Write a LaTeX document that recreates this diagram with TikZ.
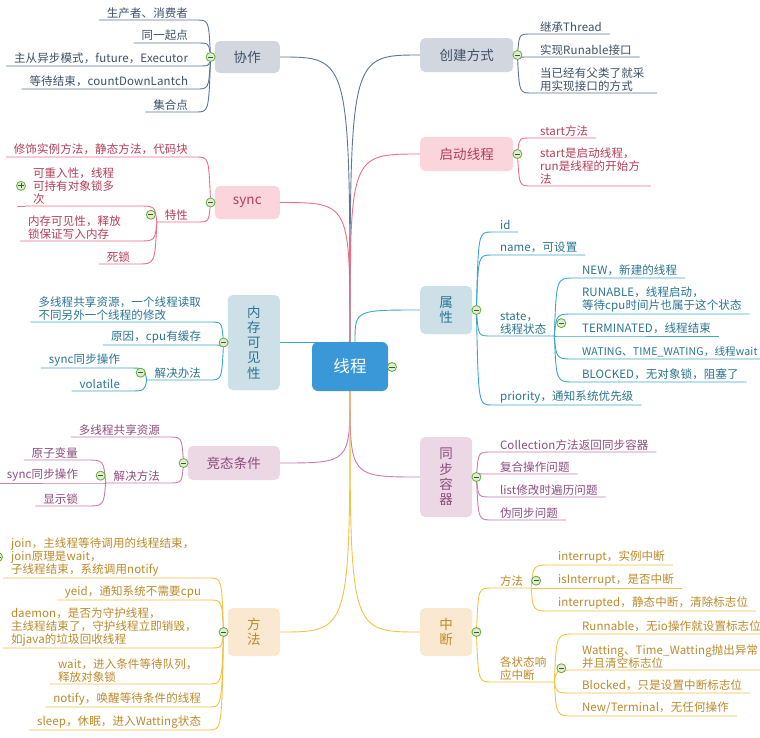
\documentclass[tikz,border=0pt]{standalone}
\usepackage{fontspec}
\setmainfont{Noto Sans CJK SC}[LetterSpace=1]
\usetikzlibrary{backgrounds,calc}
\definecolor{hubblue}{HTML}{3A98D8}
\definecolor{slateline}{HTML}{5E7796}
\definecolor{slatefill}{HTML}{D2D7DF}
\definecolor{slatetext}{HTML}{3C5068}
\definecolor{roseline}{HTML}{EF6E88}
\definecolor{rosefill}{HTML}{FAD5DB}
\definecolor{rosetext}{HTML}{B43D58}
\definecolor{tealline}{HTML}{3AA8C8}
\definecolor{tealfill}{HTML}{CDE0E8}
\definecolor{tealtext}{HTML}{2A7590}
\definecolor{plumline}{HTML}{C87CB3}
\definecolor{plumfill}{HTML}{EBD8E4}
\definecolor{plumtext}{HTML}{8C4C7E}
\definecolor{amberline}{HTML}{F5C344}
\definecolor{amberfill}{HTML}{FBE8D0}
\definecolor{ambertext}{HTML}{BC8A2A}
\definecolor{foldgreen}{HTML}{5FAE2E}
\definecolor{foldfill}{HTML}{E3EADB}
\tikzset{
  hub/.style={
    fill=hubblue,
    text=white,
    rounded corners=6pt,
    minimum width=76pt,
    minimum height=49pt,
    inner sep=0pt,
    font=\fontsize{16.5}{18}\selectfont
  },
  topic/.style={
    rounded corners=5pt,
    inner sep=0pt,
    align=center,
    font=\fontsize{13.5}{15.3}\selectfont
  },
  leaf/.style={
    inner xsep=8pt,
    inner ysep=2pt,
    outer sep=0pt,
    align=left,
    font=\fontsize{11.5}{12.8}\selectfont
  },
  lleaf/.style={leaf, anchor=south east},
  rleaf/.style={leaf, anchor=south west},
  fold/.style={
    circle,
    draw=foldgreen,
    fill=foldfill,
    line width=0.8pt,
    minimum size=9pt,
    inner sep=0pt,
    path picture={\draw[foldgreen!55!black, line width=0.9pt]
      ([xshift=-2.6pt]path picture bounding box.center) --
      ([xshift=2.6pt]path picture bounding box.center);}
  },
  plusfold/.style={
    fold,
    path picture={\draw[foldgreen!55!black, line width=0.9pt]
      ([xshift=-2.6pt]path picture bounding box.center) --
      ([xshift=2.6pt]path picture bounding box.center)
      ([yshift=-2.6pt]path picture bounding box.center) --
      ([yshift=2.6pt]path picture bounding box.center);}
  },
  link/.style={line width=0.9pt}
}
\newcommand{\hublink}[3]{%
  \draw[link,#1] (#3) .. controls (#3 |- #2) .. (#2);
}
\newcommand{\leftlink}[3]{%
  \draw[link,#1] (#2.south west) -- (#2.south east)
    .. controls ($(#2.south east -| #3)+(-2,0)$) .. (#3);
}
\newcommand{\rightlink}[3]{%
  \draw[link,#1] (#3) .. controls ($(#2.south west -| #3)+(2,0)$) ..
    (#2.south west) -- (#2.south east);
}

\begin{document}
\begin{tikzpicture}[x=1pt, y=-1pt]
  \useasboundingbox (0,0) rectangle (760,737);

  % --- centre ---
  \node[hub] (thread) at (350,366.5) {线程};
  \node[fold] (threadf) at (392,367) {};
  \coordinate (tn) at ([xshift=5pt]thread.north);

  % --- topics, left ---
  \node[topic, anchor=east, fill=slatefill, text=slatetext, minimum width=65pt, minimum height=32pt] (coop) at (280,57) {协作};
  \node[topic, anchor=east, fill=rosefill, text=rosetext, minimum width=65pt, minimum height=33pt] (sync) at (280,202.5) {sync};
  \node[topic, anchor=east, fill=tealfill, text=tealtext, minimum width=52pt, minimum height=95pt] (memvis) at (280,342.5) {内\\存\\可\\见\\性};
  \node[topic, anchor=east, fill=plumfill, text=plumtext, minimum width=92pt, minimum height=34pt] (race) at (280,463) {竞态条件};
  \node[topic, anchor=east, fill=amberfill, text=ambertext, minimum width=52pt, minimum height=48pt] (meth) at (280,632) {方\\法};

  % --- topics, right ---
  \node[topic, anchor=west, fill=slatefill, text=slatetext, minimum width=93pt, minimum height=34pt] (create) at (420,55) {创建方式};
  \node[topic, anchor=west, fill=rosefill, text=rosetext, minimum width=93pt, minimum height=34pt] (start) at (420,154) {启动线程};
  \node[topic, anchor=west, fill=tealfill, text=tealtext, minimum width=52pt, minimum height=48pt] (attr) at (420,310) {属\\性};
  \node[topic, anchor=west, fill=plumfill, text=plumtext, minimum width=52pt, minimum height=80pt] (syncc) at (420,477) {同\\步\\容\\器};
  \node[topic, anchor=west, fill=amberfill, text=ambertext, minimum width=52pt, minimum height=48pt] (intr) at (420,632) {中\\断};

  \foreach \t in {coop,sync,memvis,race,meth}
    {\node[fold] (\t f) at ([xshift=-4pt]\t.west) {};}
  \foreach \t in {create,start,attr,syncc,intr}
    {\node[fold] (\t f) at ([xshift=4pt]\t.east) {};}

  % --- 协作 ---
  \begin{scope}[text=slatetext]
    \node[lleaf] (coop1) at (196,20) {生产者、消费者};
    \node[lleaf] (coop2) at (196,43) {同一起点};
    \node[lleaf] (coop3) at (196,66) {主从异步模式，future，Executor};
    \node[lleaf] (coop4) at (196,89) {等待结束，countDownLantch};
    \node[lleaf] (coop5) at (196,112) {集合点};
  \end{scope}

  % --- sync ---
  \begin{scope}[text=rosetext]
    \node[lleaf] (sync1) at (196,157) {修饰实例方法，静态方法，代码块};
    \node[lleaf] (sync2) at (196,222) {特性};
    \node[lleaf, text width=97pt] (sync21) at (138,206) {可重入性，线程\\可持有对象锁多\\次};
    \node[lleaf, text width=102pt] (sync22) at (138,241) {内存可见性，释放\\锁保证写入内存};
    \node[lleaf] (sync23) at (138,264) {死锁};
  \end{scope}
  \node[fold] (sync2f) at ([xshift=-6pt]sync2.west) {};
  \node[plusfold] (sync21f) at ([xshift=-4pt]sync21.west) {};
  \coordinate (sync2j) at (sync2.south west);

  % --- 内存可见性 ---
  \begin{scope}[text=tealtext]
    \node[lleaf] (mem1) at (209,322) {多线程共享资源，一个线程读取\\不同另外一个线程的修改};
    \node[lleaf] (mem2) at (209,345) {原因，cpu有缓存};
    \node[lleaf] (mem3) at (209,380) {解决办法};
    \node[lleaf] (mem31) at (128,368) {sync同步操作};
    \node[lleaf] (mem32) at (128,391) {volatile};
  \end{scope}
  \node[fold] (mem3f) at ([xshift=-6pt]mem3.west) {};
  \coordinate (mem3j) at (mem3.south west);

  % --- 竞态条件 ---
  \begin{scope}[text=plumtext]
    \node[lleaf] (race1) at (168,437) {多线程共享资源};
    \node[lleaf] (race2) at (168,483) {解决方法};
    \node[lleaf] (race21) at (86,460) {原子变量};
    \node[lleaf] (race22) at (86,483) {sync同步操作};
    \node[lleaf] (race23) at (86,506) {显示锁};
  \end{scope}
  \node[fold] (race2f) at ([xshift=-5pt]race2.west) {};
  \coordinate (race2j) at (race2.south west);

  % --- 方法 ---
  \begin{scope}[text=ambertext]
    \node[lleaf, text width=190pt] (meth1) at (209,578) {join，主线程等待调用的线程结束，\\join原理是wait，\\子线程结束，系统调用notify};
    \node[lleaf] (meth2) at (209,600) {yeid，通知系统不需要cpu};
    \node[lleaf, text width=190pt] (meth3) at (209,648) {daemon，是否为守护线程，\\主线程结束了，守护线程立即销毁，\\如java的垃圾回收线程};
    \node[lleaf, text width=143pt] (meth4) at (209,684) {wait，进入条件等待队列，\\释放对象锁};
    \node[lleaf] (meth5) at (209,707) {notify，唤醒等待条件的线程};
    \node[lleaf] (meth6) at (209,730) {sleep，休眠，进入Watting状态};
  \end{scope}
  \node[fold] (meth1f) at ([xshift=-5pt]meth1.west) {};

  % --- 创建方式 ---
  \begin{scope}[text=slatetext]
    \node[rleaf] (cre1) at (532,34) {继承Thread};
    \node[rleaf] (cre2) at (532,57) {实现Runable接口};
    \node[rleaf, text width=109pt] (cre3) at (532,93) {当已经有父类了就采\\用实现接口的方式};
  \end{scope}

  % --- 启动线程 ---
  \begin{scope}[text=rosetext]
    \node[rleaf] (sta1) at (532,138) {start方法};
    \node[rleaf, text width=103pt] (sta2) at (532,186) {start是启动线程，\\run是线程的开始方\\法};
  \end{scope}

  % --- 属性 ---
  \begin{scope}[text=tealtext]
    \node[rleaf] (att1) at (492,232) {id};
    \node[rleaf] (att2) at (492,255) {name，可设置};
    \node[rleaf] (att3) at (492,336) {state，\\线程状态};
    \node[rleaf] (att4) at (492,405) {priority，通知系统优先级};
    \node[rleaf] (att31) at (574,278) {NEW，新建的线程};
    \node[rleaf] (att32) at (574,314) {RUNABLE，线程启动，\\等待cpu时间片也属于这个状态};
    \node[rleaf] (att33) at (574,336) {TERMINATED，线程结束};
    \node[rleaf, font=\fontsize{10.6}{12.8}\selectfont] (att34) at (574,359) {WATING、TIME\_WATING，线程wait};
    \node[rleaf] (att35) at (574,382) {BLOCKED，无对象锁，阻塞了};
  \end{scope}
  \node[fold] (att3f) at ([xshift=7pt]att3.east) {};
  \coordinate (att3j) at (att3.south east);

  % --- 同步容器 ---
  \begin{scope}[text=plumtext]
    \node[rleaf] (sc1) at (492,452) {Collection方法返回同步容器};
    \node[rleaf] (sc2) at (492,474) {复合操作问题};
    \node[rleaf] (sc3) at (492,497) {list修改时遍历问题};
    \node[rleaf] (sc4) at (492,520) {伪同步问题};
  \end{scope}

  % --- 中断 ---
  \begin{scope}[text=ambertext]
    \node[rleaf] (int1) at (492,588) {方法};
    \node[rleaf] (int2) at (492,682) {各状态响\\应中断};
    \node[rleaf] (int11) at (550,565) {interrupt，实例中断};
    \node[rleaf] (int12) at (550,588) {isInterrupt，是否中断};
    \node[rleaf] (int13) at (550,611) {interrupted，静态中断，清除标志位};
    \node[rleaf] (int21) at (574,634) {Runnable，无io操作就设置标志位};
    \node[rleaf] (int22) at (574,670) {Watting、Time\_Watting抛出异常\\并且清空标志位};
    \node[rleaf] (int23) at (574,693) {Blocked，只是设置中断标志位};
    \node[rleaf] (int24) at (574,716) {New/Terminal，无任何操作};
  \end{scope}
  \node[fold] (int1f) at ([xshift=5pt]int1.east) {};
  \node[fold] (int2f) at ([xshift=7pt]int2.east) {};
  \coordinate (int1j) at (int1.south east);
  \coordinate (int2j) at (int2.south east);

  % --- connectors ---
  \begin{scope}[on background layer]
    \fill[white] (0,0) rectangle (760,737);

    \hublink{slateline}{coop.east}{thread.north}
    \hublink{roseline}{sync.east}{thread.north}
    \hublink{tealline}{memvis.east}{thread.north}
    \hublink{plumline}{race.east}{thread.south}
    \hublink{amberline}{meth.east}{thread.south}
    \hublink{slateline}{create.west}{thread.north}
    \hublink{roseline}{start.west}{thread.north}
    \hublink{tealline}{attr.west}{tn}
    \hublink{plumline}{syncc.west}{thread.south}
    \hublink{amberline}{intr.west}{thread.south}

    \foreach \n in {coop1,coop2,coop3,coop4,coop5}
      {\leftlink{slateline}{\n}{coopf}}
    \foreach \n in {sync1,sync2}
      {\leftlink{roseline}{\n}{syncf}}
    \foreach \n in {sync21,sync22,sync23}
      {\leftlink{roseline}{\n}{sync2j}}
    \draw[link,roseline] ([xshift=-8pt]sync21.south west) -- (sync21.south west);
    \foreach \n in {mem1,mem2,mem3}
      {\leftlink{tealline}{\n}{memvisf}}
    \foreach \n in {mem31,mem32}
      {\leftlink{tealline}{\n}{mem3j}}
    \foreach \n in {race1,race2}
      {\leftlink{plumline}{\n}{racef}}
    \foreach \n in {race21,race22,race23}
      {\leftlink{plumline}{\n}{race2j}}
    \foreach \n in {meth1,meth2,meth3,meth4,meth5,meth6}
      {\leftlink{amberline}{\n}{methf}}

    \foreach \n in {cre1,cre2,cre3}
      {\rightlink{slateline}{\n}{createf}}
    \foreach \n in {sta1,sta2}
      {\rightlink{roseline}{\n}{startf}}
    \foreach \n in {att1,att2,att3,att4}
      {\rightlink{tealline}{\n}{attrf}}
    \foreach \n in {att31,att32,att33,att34,att35}
      {\rightlink{tealline}{\n}{att3j}}
    \foreach \n in {sc1,sc2,sc3,sc4}
      {\rightlink{plumline}{\n}{synccf}}
    \foreach \n in {int1,int2}
      {\rightlink{amberline}{\n}{intrf}}
    \foreach \n in {int11,int12,int13}
      {\rightlink{amberline}{\n}{int1j}}
    \foreach \n in {int21,int22,int23,int24}
      {\rightlink{amberline}{\n}{int2j}}
  \end{scope}
\end{tikzpicture}
\end{document}
